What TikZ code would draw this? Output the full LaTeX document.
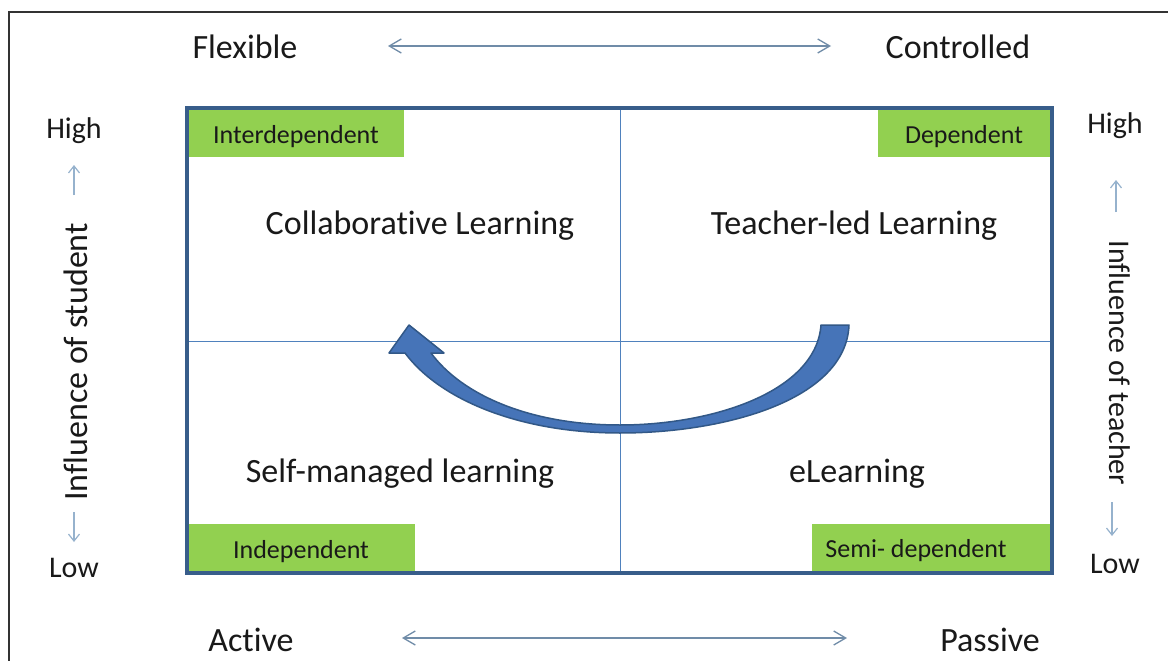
\documentclass[tikz,border=0pt]{standalone}
\usepackage{fontspec}
\setmainfont{Carlito}[Ligatures=NoCommon]
\usetikzlibrary{arrows.meta}
\definecolor{frameblue}{RGB}{56,93,138}
\definecolor{divblue}{RGB}{79,129,189}
\definecolor{labelgreen}{RGB}{146,208,80}
\definecolor{axisgray}{RGB}{112,140,168}
\definecolor{sideblue}{RGB}{150,178,205}
\definecolor{bendfill}{RGB}{70,116,184}
\definecolor{bendline}{RGB}{50,88,135}
\definecolor{ink}{RGB}{25,25,25}

\begin{document}
\begin{tikzpicture}[x=1pt,y=-1pt,
    big/.style={text=ink,font=\fontsize{34}{40}\selectfont,yshift=-2pt},
    side/.style={text=ink,font=\fontsize{30}{36}\selectfont,yshift=-2pt},
    tag/.style={text=ink,font=\fontsize{26}{30}\selectfont,yshift=-2pt},
    greenbox/.style={fill=labelgreen,draw=none},
    axis/.style={axisgray,line width=1.3pt,{Straight Barb[length=12pt,width=14pt]}-{Straight Barb[length=12pt,width=14pt]}},
    updown/.style={sideblue,line width=1.2pt,-{Straight Barb[length=7pt,width=11pt]}},
  ]
  \useasboundingbox (0,0) rectangle (1168,661);
  \fill[white] (0,0) rectangle (1168,661);
  \draw[line width=1.6pt,black!80] (1168,12) -- (9,12) -- (9,661);

  \fill[greenbox] (187,108) rectangle (404,157);
  \fill[greenbox] (878,108) rectangle (1052,157);
  \fill[greenbox] (187,524) rectangle (415,573);
  \fill[greenbox] (812,524) rectangle (1052,573);
  \draw[divblue,line width=1pt] (620,108) -- (620,573);
  \draw[divblue,line width=1pt] (187,341) -- (1052,341);
  \draw[frameblue,line width=3.5pt] (187,108) rectangle (1052,573);

  \node[tag] (inter) at (296,135) {Interdependent};
  \node[tag] (dep) at (964,135) {Dependent};
  \node[tag] (indep) at (301,550) {Independent};
  \node[tag] (semi) at (916,549) {Semi- dependent};

  \node[big] (collab) at (420,224) {Collaborative Learning};
  \node[big] (teach) at (854,224) {Teacher-led Learning};
  \node[big] (self) at (400,472) {Self-managed learning};
  \node[big] (elearn) at (857,472) {eLearning};

  \filldraw[fill=bendfill,draw=bendline,line width=1.5pt,line join=round]
    (849,325) .. controls (846,400) and (725,433) .. (620,433)
    .. controls (520,433) and (440,400) .. (405,353)
    -- (389,353) -- (409,325) -- (444,353) -- (431,353)
    .. controls (462,395) and (530,425) .. (620,425)
    .. controls (712,425) and (816,392) .. (821,325) -- cycle;

  \node[big] (flex) at (245,45) {Flexible};
  \node[big] (ctrl) at (958,45) {Controlled};
  \node[big] (act) at (251,638) {Active};
  \node[big] (pass) at (990,638) {Passive};
  \coordinate (topL) at (388,46);
  \coordinate (topR) at (831,46);
  \coordinate (botL) at (402,638);
  \coordinate (botR) at (847,638);
  \draw[axis] (topL) -- (topR);
  \draw[axis] (botL) -- (botR);

  \node[side] (lhigh) at (74,129) {High};
  \node[side] (llow) at (74,566) {Low};
  \node[big,rotate=90,yshift=2pt] (stud) at (78,360) {Influence of student};
  \coordinate (lupA) at (74,195);
  \coordinate (lupB) at (74,165);
  \coordinate (ldnA) at (74,512);
  \coordinate (ldnB) at (74,542);
  \draw[updown] (lupA) -- (lupB);
  \draw[updown] (ldnA) -- (ldnB);

  \node[side] (rhigh) at (1115,124) {High};
  \node[side] (rlow) at (1115,562) {Low};
  \node[side,rotate=-90,yshift=2pt] (teacher) at (1118,361) {Influence of teacher};
  \coordinate (rupA) at (1116,212);
  \coordinate (rupB) at (1116,180);
  \coordinate (rdnA) at (1112,502);
  \coordinate (rdnB) at (1112,536);
  \draw[updown] (rupA) -- (rupB);
  \draw[updown] (rdnA) -- (rdnB);
\end{tikzpicture}
\end{document}
